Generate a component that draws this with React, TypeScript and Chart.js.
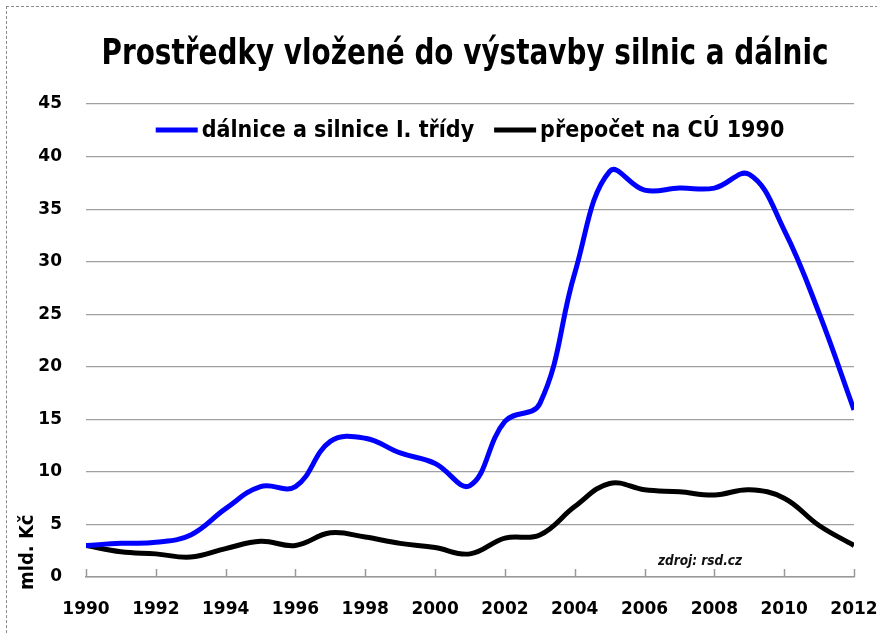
import React, { useEffect, useRef } from 'react';
import { Chart, registerables } from 'chart.js';

Chart.register(...registerables);

const years = [1990, 1991, 1992, 1993, 1994, 1995, 1996, 1997, 1998, 1999, 2000, 2001, 2002, 2003, 2004, 2005, 2006, 2007, 2008, 2009, 2010, 2011, 2012];
const roadsAndMotorways = [3.0, 3.2, 3.3, 4.0, 6.5, 8.6, 8.6, 12.9, 13.2, 11.8, 10.8, 8.7, 14.8, 16.5, 28.9, 38.6, 36.8, 37.0, 37.0, 38.3, 33.0, 25.1, 15.9];
const recalculated1990 = [3.0, 2.4, 2.2, 1.9, 2.7, 3.4, 3.0, 4.2, 3.8, 3.2, 2.8, 2.2, 3.7, 4.0, 6.7, 8.9, 8.3, 8.1, 7.8, 8.3, 7.5, 4.9, 3.0];
const yMin = 0;
const yMax = 45;
const yStep = 5;
const xStep = 2;

const titleText = 'Prostředky vložené do výstavby silnic a dálnic';
const seriesNames = ['dálnice a silnice I. třídy', 'přepočet na CÚ 1990'];
const seriesColors = ['#0000ff', '#000000'];
const yAxisTitle = 'mld. Kč';
const sourceText = 'zdroj: rsd.cz';

const narrowFont = "'DejaVu Sans Condensed', 'DejaVu Sans', sans-serif";
const tickFont = "'DejaVu Sans', Verdana, sans-serif";

const extrasPlugin = {
  id: 'extras',
  beforeDatasetsDraw(chart: any) {
    const { ctx, chartArea, scales } = chart;
    const xs = scales.x;
    ctx.save();
    ctx.strokeStyle = '#999999';
    ctx.lineWidth = 1.5;
    for (let v = years[0]; v <= years[years.length - 1]; v += xStep) {
      const px = Math.round(xs.getPixelForValue(v)) + 0.5;
      ctx.beginPath();
      ctx.moveTo(px, chartArea.bottom);
      ctx.lineTo(px, chartArea.bottom - 8);
      ctx.stroke();
    }
    ctx.restore();
  },
  afterDraw(chart: any) {
    const { ctx, chartArea } = chart;
    // title
    ctx.save();
    ctx.fillStyle = '#000';
    ctx.font = `bold 31px ${narrowFont}`;
    ctx.textAlign = 'center';
    ctx.textBaseline = 'alphabetic';
    ctx.translate(465, 64);
    ctx.scale(1, 1.12);
    ctx.fillText(titleText, 0, 0);
    ctx.restore();

    // legend inside chart area
    ctx.save();
    ctx.font = `bold 23px ${narrowFont}`;
    ctx.textBaseline = 'alphabetic';
    ctx.textAlign = 'left';
    const lineW = 42;
    const gapLT = 4;
    const gapItems = 20;
    const widths = seriesNames.map((t) => ctx.measureText(t).width);
    const total = widths.reduce((a, w) => a + lineW + gapLT + w, 0) + gapItems * (seriesNames.length - 1);
    let x = (chartArea.left + chartArea.right) / 2 - total / 2;
    const yLine = chartArea.top + 26;
    const yText = chartArea.top + 33;
    seriesNames.forEach((t, i) => {
      ctx.fillStyle = seriesColors[i];
      ctx.fillRect(x, yLine - 2.5, lineW, 5);
      x += lineW + gapLT;
      ctx.fillStyle = '#000';
      ctx.fillText(t, x, yText);
      x += widths[i] + gapItems;
    });
    ctx.restore();

    // y axis title
    ctx.save();
    ctx.fillStyle = '#000';
    ctx.font = `bold 20px ${narrowFont}`;
    ctx.translate(33, chartArea.bottom + 13);
    ctx.rotate(-Math.PI / 2);
    ctx.textAlign = 'left';
    ctx.textBaseline = 'alphabetic';
    ctx.fillText(yAxisTitle, 0, 0);
    ctx.restore();

    // source
    ctx.save();
    ctx.fillStyle = '#111';
    ctx.font = `italic bold 13.5px ${narrowFont}`;
    ctx.textAlign = 'left';
    ctx.textBaseline = 'middle';
    ctx.fillText(sourceText, chartArea.right - 196, chartArea.bottom - 16);
    ctx.restore();
  },
};

export default function App() {
  const ref = useRef<HTMLCanvasElement | null>(null);
  useEffect(() => {
    if (!ref.current) return;
    const chart = new Chart(ref.current, {
      type: 'line',
      data: {
        datasets: [
          {
            label: seriesNames[0],
            data: years.map((y, i) => ({ x: y, y: roadsAndMotorways[i] })),
            borderColor: seriesColors[0],
            backgroundColor: seriesColors[0],
            borderWidth: 5,
            pointRadius: 0,
            tension: 0.4,
          },
          {
            label: seriesNames[1],
            data: years.map((y, i) => ({ x: y, y: recalculated1990[i] })),
            borderColor: seriesColors[1],
            backgroundColor: seriesColors[1],
            borderWidth: 5,
            pointRadius: 0,
            tension: 0.4,
          },
        ],
      },
      options: {
        animation: false,
        responsive: false,
        maintainAspectRatio: false,
        layout: { padding: { left: 38, right: 23, top: 104, bottom: 0 } },
        plugins: {
          title: { display: false },
          legend: { display: false },
          tooltip: { enabled: false },
        },
        scales: {
          x: {
            type: 'linear',
            min: years[0],
            max: years[years.length - 1],
            grid: { display: false, drawTicks: false },
            border: { display: true, color: '#999999', width: 1.5 },
            afterFit: (s: any) => {
              s.paddingLeft = 0;
              s.paddingRight = 0;
              s.height = 58;
            },
            ticks: {
              stepSize: xStep,
              padding: 22,
              color: '#000',
              font: { family: tickFont, size: 17, weight: 'bold' },
              maxRotation: 0,
              callback: (v: any) => String(v),
            },
          },
          y: {
            min: yMin,
            max: yMax,
            grid: { color: '#a0a0a0', lineWidth: 1.2, drawTicks: false },
            border: { display: false },
            afterFit: (s: any) => {
              s.paddingTop = 0;
              s.paddingBottom = 0;
              s.width = 48;
            },
            ticks: {
              stepSize: yStep,
              padding: 24,
              color: '#000',
              font: { family: tickFont, size: 17, weight: 'bold' },
            },
          },
        },
      },
      plugins: [extrasPlugin],
    } as any);
    return () => chart.destroy();
  }, []);

  return (
    <div style={{ position: 'absolute', left: 0, top: 0, width: 877, height: 635, overflow: 'hidden', background: '#fff' }}>
      <div style={{ position: 'absolute', left: 6, top: 6, width: 900, height: 700, border: '1px dashed #8a8a8a' }} />
      <canvas ref={ref} width={877} height={635} style={{ position: 'absolute', left: 0, top: 0, width: 877, height: 635 }} />
    </div>
  );
}
